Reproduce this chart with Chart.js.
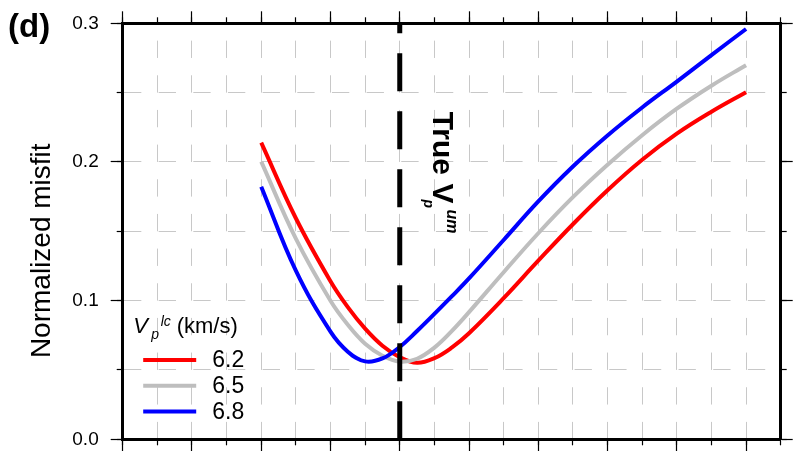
<!DOCTYPE html>
<html>
<head>
<meta charset="utf-8">
<title>Normalized misfit vs upper-mantle Vp</title>
<script src="https://cdn.jsdelivr.net/npm/chart.js@4.4.1/dist/chart.umd.min.js"></script>
<style>
  html, body { margin: 0; padding: 0; background: #fff; }
  #wrap { width: 799px; height: 451px; }
</style>
</head>
<body>
<div id="wrap"><canvas id="misfitChart" width="799" height="451"></canvas></div>
<script>
// --- Data ---
// x: trial upper-mantle Vp (km/s), y: normalized misfit, one curve per lower-crust Vp
const vpUpperMantle = [7.80, 7.85, 7.90, 7.925, 7.95, 7.975, 8.00, 8.025, 8.05, 8.075, 8.10, 8.15, 8.20, 8.25, 8.30, 8.35, 8.40, 8.45, 8.50];
const misfitLc62 = [0.2139, 0.1594, 0.1140, 0.0953, 0.0798, 0.0675, 0.0592, 0.0552, 0.0585, 0.0661, 0.0765, 0.1018, 0.1288, 0.1551, 0.1796, 0.2016, 0.2204, 0.2362, 0.2503];
const misfitLc65 = [0.2002, 0.1447, 0.0999, 0.0826, 0.0689, 0.0603, 0.0560, 0.0581, 0.0661, 0.0780, 0.0917, 0.1205, 0.1486, 0.1746, 0.1980, 0.2193, 0.2384, 0.2550, 0.2698];
const misfitLc68 = [0.1822, 0.1216, 0.0776, 0.0632, 0.0562, 0.0583, 0.0666, 0.0781, 0.0904, 0.1030, 0.1160, 0.1437, 0.1715, 0.1967, 0.2191, 0.2393, 0.2580, 0.2771, 0.2959];
const lcLabels = ['6.2', '6.5', '6.8'];
const lcColors = ['#ff0000', '#bebebe', '#0000ff'];
const trueVpUm = 8.0;
const vpRange = [7.6, 8.55];
const misfitRange = [0, 0.3];
const yTickValues = [0.0, 0.1, 0.2, 0.3];

const FONT = '"Liberation Sans", Arial, Helvetica, sans-serif';
const GRID_GRAY = '#c8c8c8';
const GRID_DASH = [17.33, 17.33];

// --- Datasets ---
const toPoints = ys => vpUpperMantle.map((x, i) => ({ x: x, y: ys[i] }));

const curveSets = [misfitLc62, misfitLc65, misfitLc68].map((ys, i) => ({
    label: lcLabels[i],
    data: toPoints(ys),
    borderColor: lcColors[i],
    borderWidth: 4,
    pointRadius: 0,
    tension: 0.4,
    fill: false,
    order: 3 - i
}));

const trueLine = {
    label: 'True Vp um',
    data: [{ x: trueVpUm, y: misfitRange[0] }, { x: trueVpUm, y: misfitRange[1] }],
    borderColor: '#000',
    borderWidth: 5,
    borderDash: [38, 20],
    pointRadius: 0,
    fill: false,
    order: 0
};

// --- Frame helpers: minor ticks + dashed grid, major ticks on a twin scale ---
function minorScale(position, min, max, step, withGrid, dashOffset) {
    const horizontal = position === 'top' || position === 'bottom';
    return {
        type: 'linear', position: position, min: min, max: max, weight: 0,
        afterFit: s => { if (horizontal) s.height = 0; else s.width = 0; },
        ticks: { display: false, stepSize: step },
        grid: {
            drawOnChartArea: withGrid, color: GRID_GRAY, lineWidth: 1,
            tickLength: 6, tickColor: '#000', tickWidth: 1.2, tickBorderDash: []
        },
        border: { display: true, width: 3, color: '#000', dash: GRID_DASH, dashOffset: dashOffset }
    };
}

function majorScale(position, min, max, step) {
    const horizontal = position === 'top' || position === 'bottom';
    return {
        type: 'linear', position: position, min: min, max: max, weight: 1,
        afterFit: s => { if (horizontal) s.height = 0; else s.width = 0; },
        ticks: { display: false, stepSize: step, includeBounds: false },
        grid: { drawOnChartArea: false, tickLength: 12, tickColor: '#000', tickWidth: 1.2, tickBorderDash: [] },
        border: { display: false }
    };
}

const yLabelled = {
    type: 'linear', position: 'left', min: misfitRange[0], max: misfitRange[1], weight: 1,
    afterFit: s => { s.width = 122.7; s.paddingTop = 0; s.paddingBottom = 0; },
    afterBuildTicks: s => { s.ticks = yTickValues.map(v => ({ value: v })); },
    ticks: {
        color: '#000', padding: 12,
        font: { family: FONT, size: 19 },
        callback: v => Number(v).toFixed(1)
    },
    grid: { drawOnChartArea: false, tickLength: 12, tickColor: '#000', tickWidth: 1.2, tickBorderDash: [] },
    border: { display: false },
    title: {
        display: true,
        text: 'Normalized misfit     ',
        color: '#000',
        font: { family: FONT, size: 28 },
        padding: { top: 25, bottom: 0 }
    }
};

// --- Annotations: panel letter, true-Vp label, legend ---
const annotationPlugin = {
    id: 'annotations',
    afterDraw(chart) {
        const { ctx, chartArea, scales } = chart;
        ctx.save();
        ctx.fillStyle = '#000';
        ctx.textAlign = 'left';
        ctx.textBaseline = 'alphabetic';

        ctx.font = 'bold 33px ' + FONT;
        ctx.fillText('(d)', 8, 37);

        // rotated "True Vp^um" next to the dashed line
        const xTrue = scales.x.getPixelForValue(trueVpUm);
        ctx.save();
        ctx.translate(xTrue + 33.5, chartArea.top + 88.4);
        ctx.rotate(Math.PI / 2);
        ctx.font = 'bold 30px ' + FONT;
        ctx.fillText('True V', 0, 0);
        const w = ctx.measureText('True V').width;
        ctx.font = 'italic bold 14px ' + FONT;
        ctx.fillText('p', w - 4, 9);
        ctx.font = 'italic bold 16px ' + FONT;
        ctx.fillText('um', w + 6, -13.4);
        ctx.restore();

        // legend header
        const lx = chartArea.left + 10.5;
        const hy = chartArea.bottom - 106.3;
        ctx.font = 'italic 22px ' + FONT;
        ctx.fillText('V', lx, hy);
        ctx.font = 'italic 14px ' + FONT;
        ctx.fillText('p', lx + 18, hy + 6);
        ctx.fillText('lc', lx + 27.5, hy - 7);
        ctx.font = '22px ' + FONT;
        ctx.fillText('(km/s)', lx + 43.5, hy);

        // legend entries
        ctx.font = '23px ' + FONT;
        ctx.textBaseline = 'middle';
        curveSets.forEach((ds, i) => {
            const y = chartArea.bottom - 79.3 + i * 25.8;
            ctx.strokeStyle = ds.borderColor;
            ctx.lineWidth = ds.borderWidth;
            ctx.beginPath();
            ctx.moveTo(chartArea.left + 20.5, y);
            ctx.lineTo(chartArea.left + 73.5, y);
            ctx.stroke();
            ctx.fillText(ds.label, chartArea.left + 89.5, y + 1);
        });
        ctx.restore();
    }
};

new Chart(document.getElementById('misfitChart'), {
    type: 'line',
    data: { datasets: [trueLine].concat(curveSets) },
    options: {
        responsive: false,
        animation: false,
        events: [],
        layout: { padding: { top: 23.3, right: 18.3, bottom: 11.7, left: 0 } },
        plugins: { legend: { display: false }, tooltip: { enabled: false } },
        scales: {
            x: minorScale('bottom', vpRange[0], vpRange[1], 0.05, true, GRID_DASH[0]),
            xMajor: majorScale('bottom', vpRange[0], vpRange[1], 0.1),
            xTop: minorScale('top', vpRange[0], vpRange[1], 0.05, false, 0),
            xTopMajor: majorScale('top', vpRange[0], vpRange[1], 0.1),
            y: minorScale('left', misfitRange[0], misfitRange[1], 0.05, true, 0),
            yMajor: yLabelled,
            yRight: minorScale('right', misfitRange[0], misfitRange[1], 0.05, false, 0),
            yRightMajor: majorScale('right', misfitRange[0], misfitRange[1], 0.1)
        }
    },
    plugins: [annotationPlugin]
});
</script>
</body>
</html>
